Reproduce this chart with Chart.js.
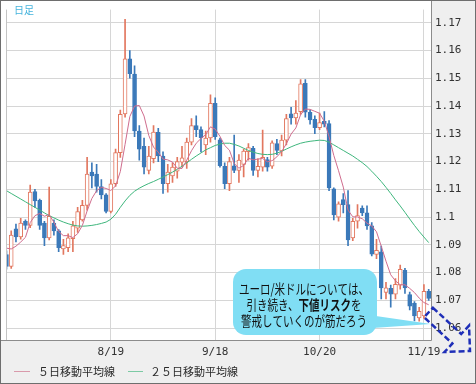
<!DOCTYPE html>
<html>
<head>
<meta charset="utf-8">
<script src="https://cdn.jsdelivr.net/npm/chart.js@4.4.1/dist/chart.umd.min.js"></script>
<style>
  html, body { margin: 0; padding: 0; background: #fff; }
  #wrap { width: 476px; height: 384px; }
</style>
</head>
<body>
<div id="wrap"><canvas id="chart" width="476" height="384"></canvas></div>
<script>
// EUR/USD daily candles, Jul 20 - Nov 20
const dates = [
  "7/20","7/21","7/22","7/23","7/24","7/27","7/28","7/29","7/30","7/31",
  "8/3","8/4","8/5","8/6","8/7","8/10","8/11","8/12","8/13","8/14","8/17","8/18","8/19","8/20","8/21","8/24","8/25","8/26","8/27","8/28","8/31",
  "9/1","9/2","9/3","9/4","9/7","9/8","9/9","9/10","9/11","9/14","9/15","9/16","9/17","9/18","9/21","9/22","9/23","9/24","9/25","9/28","9/29","9/30",
  "10/1","10/2","10/5","10/6","10/7","10/8","10/9","10/12","10/13","10/14","10/15","10/16","10/19","10/20","10/21","10/22","10/23","10/26","10/27","10/28","10/29","10/30",
  "11/2","11/3","11/4","11/5","11/6","11/9","11/10","11/11","11/12","11/13","11/16","11/17","11/18","11/19","11/20"
];

const opens = [
  1.0865,1.0822,1.0958,1.0928,1.0985,1.0970,1.1092,1.1060,1.0978,1.0925,
  1.0978,1.0950,1.0885,1.0890,1.0922,1.0960,1.0990,1.1042,1.1162,1.1155,1.1110,1.1080,1.1020,1.1120,1.1232,1.1372,1.1570,1.1515,1.1310,1.1255,1.1168,
  1.1210,1.1305,1.1220,1.1120,1.1148,1.1165,1.1198,1.1200,1.1270,1.1330,1.1315,1.1260,1.1285,1.1410,1.1278,1.1183,1.1120,1.1185,1.1168,1.1190,1.1236,1.1248,
  1.1168,1.1180,1.1207,1.1183,1.1265,1.1238,1.1277,1.1372,1.1357,1.1380,1.1482,1.1377,1.1352,1.1322,1.1345,1.1337,1.1102,1.1000,1.1063,1.1045,1.0925,1.0985,
  1.1032,1.1015,1.0968,1.0865,1.0875,1.0728,1.0743,1.0722,1.0755,1.0808,1.0721,1.0689,1.0637,1.0644,1.0732
];
const highs = [
  1.0878,1.0950,1.0975,1.0995,1.0990,1.1115,1.1100,1.1065,1.0985,1.1108,
  1.0990,1.0955,1.0920,1.0940,1.0985,1.1035,1.1060,1.1215,1.1195,1.1190,1.1135,1.1085,1.1135,1.1245,1.1385,1.1712,1.1600,1.1545,1.1330,1.1285,1.1255,
  1.1330,1.1320,1.1235,1.1190,1.1195,1.1215,1.1255,1.1285,1.1355,1.1365,1.1325,1.1310,1.1440,1.1430,1.1285,1.1195,1.1215,1.1295,1.1225,1.1245,1.1265,1.1255,
  1.1210,1.1313,1.1215,1.1275,1.1280,1.1295,1.1370,1.1395,1.1420,1.1495,1.1495,1.1385,1.1365,1.1375,1.1380,1.1348,1.1105,1.1055,1.1085,1.1095,1.0995,1.1045,
  1.1040,1.1040,1.0980,1.0920,1.0895,1.0765,1.0755,1.0778,1.0827,1.0815,1.0730,1.0695,1.0675,1.0757,1.0740
];
const lows = [
  1.0812,1.0815,1.0910,1.0920,1.0955,1.0962,1.1035,1.0955,1.0897,1.0918,
  1.0935,1.0875,1.0865,1.0875,1.0875,1.0945,1.0985,1.1025,1.1105,1.1090,1.1065,1.1015,1.1015,1.1110,1.1215,1.1360,1.1500,1.1290,1.1205,1.1155,1.1155,
  1.1195,1.1200,1.1085,1.1090,1.1125,1.1140,1.1180,1.1175,1.1260,1.1290,1.1235,1.1225,1.1270,1.1280,1.1180,1.1102,1.1095,1.1160,1.1125,1.1145,1.1205,1.1150,
  1.1145,1.1165,1.1165,1.1175,1.1225,1.1220,1.1260,1.1335,1.1335,1.1370,1.1360,1.1335,1.1300,1.1315,1.1325,1.1095,1.0990,1.0985,1.1015,1.0897,1.0915,1.0960,
  1.1005,1.0955,1.0860,1.0850,1.0705,1.0705,1.0675,1.0705,1.0740,1.0725,1.0665,1.0626,1.0625,1.0635,1.0700
];
const closes = [
  1.0822,1.0935,1.0928,1.0978,1.0970,1.1090,1.1058,1.0970,1.0925,1.1003,
  1.0950,1.0890,1.0897,1.0925,1.0968,1.1020,1.1042,1.1155,1.1148,1.1110,1.1080,1.1020,1.1120,1.1232,1.1370,1.1570,1.1517,1.1310,1.1245,1.1180,1.1220,
  1.1306,1.1220,1.1120,1.1162,1.1180,1.1200,1.1213,1.1270,1.1330,1.1315,1.1285,1.1285,1.1410,1.1290,1.1185,1.1120,1.1200,1.1168,1.1205,1.1238,1.1250,1.1168,
  1.1183,1.1215,1.1180,1.1267,1.1240,1.1277,1.1355,1.1357,1.1375,1.1480,1.1378,1.1350,1.1322,1.1340,1.1335,1.1105,1.1008,1.1048,1.1045,1.0918,1.0985,1.1005,
  1.1015,1.0968,1.0866,1.0880,1.0745,1.0745,1.0722,1.0758,1.0812,1.0745,1.0679,1.0644,1.0660,1.0732,1.0707
];

// moving averages
const ma5 = [
  1.0888,1.0885,1.0895,1.0910,1.0927,1.0980,1.1005,1.1013,1.1003,1.1009,
  1.0981,1.0948,1.0933,1.0933,1.0926,1.0940,1.0970,1.1022,1.1067,1.1095,1.1107,1.1103,1.1096,1.1112,1.1164,1.1262,1.1362,1.1400,1.1402,1.1364,1.1294,
  1.1252,1.1234,1.1209,1.1206,1.1198,1.1176,1.1175,1.1205,1.1239,1.1266,1.1283,1.1297,1.1325,1.1317,1.1291,1.1258,1.1241,1.1193,1.1176,1.1186,1.1212,1.1206,
  1.1209,1.1211,1.1199,1.1203,1.1217,1.1236,1.1264,1.1299,1.1321,1.1369,1.1389,1.1388,1.1381,1.1374,1.1345,1.1290,1.1222,1.1167,1.1108,1.1025,1.1001,1.1000,
  1.0994,1.0978,1.0968,1.0947,1.0895,1.0841,1.0792,1.0770,1.0756,1.0756,1.0743,1.0728,1.0708,1.0692,1.0684
];
const ma25 = [
  1.1095,1.1085,1.1075,1.1065,1.1055,1.1045,1.1035,1.1025,1.1015,1.1005,
  1.0997,1.0989,1.0982,1.0976,1.0971,1.0968,1.0967,1.0968,1.0970,1.0973,1.0977,1.0982,1.0992,1.1010,1.1035,1.1058,1.1078,1.1093,1.1104,1.1113,1.1121,
  1.1128,1.1136,1.1144,1.1153,1.1162,1.1172,1.1183,1.1195,1.1208,1.1220,1.1231,1.1242,1.1250,1.1258,1.1263,1.1266,1.1266,1.1262,1.1256,1.1248,1.1240,1.1234,
  1.1229,1.1226,1.1225,1.1226,1.1230,1.1237,1.1245,1.1253,1.1260,1.1266,1.1270,1.1273,1.1275,1.1277,1.1276,1.1270,1.1260,1.1250,1.1240,1.1230,1.1220,1.1208,
  1.1196,1.1182,1.1165,1.1147,1.1128,1.1107,1.1085,1.1062,1.1040,1.1017,1.0993,1.0970,1.0948,1.0928,1.0908
];

const xTickLabels = ["8/19", "9/18", "10/20", "11/19"];
const yTicks = [1.06, 1.07, 1.08, 1.09, 1.10, 1.11, 1.12, 1.13, 1.14, 1.15, 1.16, 1.17];
const legendLabels = ["５日移動平均線", "２５日移動平均線"];

const UP = "#e2775f";
const DOWN = "#3b79b9";
const MA5_COLOR = "#cf6d8e";
const MA25_COLOR = "#3fb67d";
const MONO = "'DejaVu Sans Mono', monospace";
const JP = "'Noto Sans CJK JP', sans-serif";

const isUp = closes.map((c, i) => c >= opens[i]);
const candleColor = isUp.map((u) => (u ? UP : DOWN));
const bodyFill = isUp.map((u) => (u ? "#ffffff" : DOWN));

const bodies = dates.map((d, i) => ({ x: i, y: [opens[i], closes[i]] }));
const wicks = dates.map((d, i) => ({ x: i, y: [lows[i], highs[i]] }));

const frame = {
  id: "frame",
  beforeDraw(chart) {
    const { ctx, chartArea: a, width, height } = chart;
    ctx.save();
    ctx.fillStyle = "#efefef";
    ctx.fillRect(0, 0, width, height);
    ctx.fillStyle = "#ffffff";
    ctx.fillRect(0, 0, a.right, a.bottom);
    ctx.restore();
  },
  afterDraw(chart) {
    const { ctx, chartArea: a, width, height } = chart;
    ctx.save();
    ctx.lineWidth = 1;
    ctx.strokeStyle = "#c4c4c4";
    ctx.beginPath();
    ctx.moveTo(Math.round(a.left) + 0.5, a.top);
    ctx.lineTo(Math.round(a.left) + 0.5, a.bottom);
    ctx.stroke();
    ctx.strokeStyle = "#8c8c8c";
    ctx.beginPath();
    ctx.moveTo(Math.round(a.right) - 0.5, 0);
    ctx.lineTo(Math.round(a.right) - 0.5, Math.round(a.bottom) + 0.5);
    ctx.lineTo(0, Math.round(a.bottom) + 0.5);
    ctx.stroke();
    ctx.strokeStyle = "#6e6e6e";
    ctx.strokeRect(0.5, 0.5, width - 1, height - 1);
    ctx.restore();
  },
};

const notes = {
  id: "notes",
  afterDraw(chart) {
    const { ctx } = chart;
    ctx.save();

    // 日足
    ctx.fillStyle = "#44b3dc";
    ctx.font = "10px " + JP;
    ctx.textBaseline = "middle";
    ctx.fillText("日足", 14, 10);

    // legend
    const ly = 371.5;
    ctx.lineWidth = 1;
    ctx.strokeStyle = "#d99aab";
    ctx.beginPath(); ctx.moveTo(14, ly); ctx.lineTo(30, ly); ctx.stroke();
    ctx.strokeStyle = "#7ccaa4";
    ctx.beginPath(); ctx.moveTo(128, ly); ctx.lineTo(143, ly); ctx.stroke();
    ctx.fillStyle = "#2a2a2a";
    ctx.font = "11px " + JP;
    ctx.fillText(legendLabels[0], 38, ly);
    ctx.fillText(legendLabels[1], 150, ly);

    // speech bubble
    ctx.fillStyle = "#80def4";
    ctx.beginPath();
    ctx.roundRect(233, 269, 144, 66, 13);
    ctx.fill();
    ctx.beginPath();
    ctx.moveTo(362, 314);
    ctx.lineTo(431, 324);
    ctx.lineTo(358, 329);
    ctx.closePath();
    ctx.fill();

    const lines = [
      [["ユーロ/米ドルについては、", "normal"]],
      [["引き続き、", "normal"], ["下値リスク", "bold"], ["を", "normal"]],
      [["警戒していくのが筋だろう", "normal"]],
    ];
    const sx = 0.75;
    const cx = 304;
    const ys = [289, 305, 321];
    ctx.fillStyle = "#111111";
    ctx.textBaseline = "middle";
    lines.forEach((segs, li) => {
      let w = 0;
      segs.forEach(([t, wt]) => {
        ctx.font = wt + " 14px " + JP;
        w += ctx.measureText(t).width;
      });
      ctx.save();
      ctx.translate(cx, ys[li]);
      ctx.scale(sx, 1);
      let x = -w / 2;
      segs.forEach(([t, wt]) => {
        ctx.font = wt + " 14px " + JP;
        ctx.fillText(t, x, 0);
        x += ctx.measureText(t).width;
      });
      ctx.restore();
    });

    // dashed arrow pointing down-right
    const tx = 428.5, ty = 312.5, px = 470, py = 351;
    const len = Math.hypot(px - tx, py - ty);
    const ux = (px - tx) / len, uy = (py - ty) / len;
    const vx = -uy, vy = ux;
    const w = 6.5, hw = 18, hl = 18;
    const pt = (u, v) => [tx + ux * u + vx * v, ty + uy * u + vy * v];
    const poly = [pt(0, -w), pt(len - hl, -w), pt(len - hl, -hw), pt(len, 0), pt(len - hl, hw), pt(len - hl, w), pt(0, w)];
    ctx.strokeStyle = "#1f2fb8";
    ctx.lineWidth = 2.5;
    ctx.setLineDash([6, 3]);
    ctx.beginPath();
    poly.forEach(([x, y], k) => (k ? ctx.lineTo(x, y) : ctx.moveTo(x, y)));
    ctx.closePath();
    ctx.stroke();

    ctx.restore();
  },
};

new Chart(document.getElementById("chart").getContext("2d"), {
  type: "bar",
  data: {
    datasets: [
      {
        type: "line",
        label: legendLabels[0],
        data: ma5.map((v, i) => ({ x: i, y: v })),
        borderColor: MA5_COLOR,
        borderWidth: 1,
        pointRadius: 0,
        tension: 0,
        order: 0,
      },
      {
        type: "line",
        label: legendLabels[1],
        data: ma25.map((v, i) => ({ x: i, y: v })),
        borderColor: MA25_COLOR,
        borderWidth: 1,
        pointRadius: 0,
        tension: 0,
        order: 0,
      },
      {
        label: "body",
        data: bodies,
        backgroundColor: bodyFill,
        borderColor: candleColor,
        borderWidth: 1,
        borderSkipped: false,
        barThickness: 4,
        minBarLength: 1,
        grouped: false,
        order: 1,
      },
      {
        label: "wick",
        data: wicks,
        backgroundColor: candleColor,
        borderWidth: 0,
        barThickness: 1,
        grouped: false,
        order: 2,
      },
    ],
  },
  options: {
    responsive: false,
    animation: false,
    layout: { padding: { left: 6, top: 2, right: 0, bottom: 22 } },
    plugins: {
      legend: { display: false },
      tooltip: { enabled: false },
    },
    scales: {
      x: {
        type: "linear",
        min: -0.1,
        max: 89.7,
        offset: false,
        afterBuildTicks: (scale) => {
          scale.ticks = xTickLabels.map((l) => ({ value: dates.indexOf(l) }));
        },
        afterFit: (scale) => {
          scale.height = 22;
        },
        grid: { color: "#d6d6d6", drawTicks: false, offset: false },
        border: { display: false },
        ticks: {
          autoSkip: false,
          maxRotation: 0,
          padding: 6,
          color: "#333333",
          font: { family: MONO, size: 11 },
          callback: (v) => dates[v],
        },
      },
      y: {
        position: "right",
        min: 1.0557,
        max: 1.17475,
        afterBuildTicks: (scale) => {
          scale.ticks = yTicks.map((v) => ({ value: v }));
        },
        afterFit: (scale) => {
          scale.width = 44;
        },
        grid: { color: "#d6d6d6", drawTicks: false },
        border: { display: false },
        ticks: {
          padding: 3,
          color: "#333333",
          font: { family: MONO, size: 11 },
          callback: (v) => String(Math.round(v * 100) / 100),
        },
      },
    },
  },
  plugins: [frame, notes],
});
</script>
</body>
</html>
